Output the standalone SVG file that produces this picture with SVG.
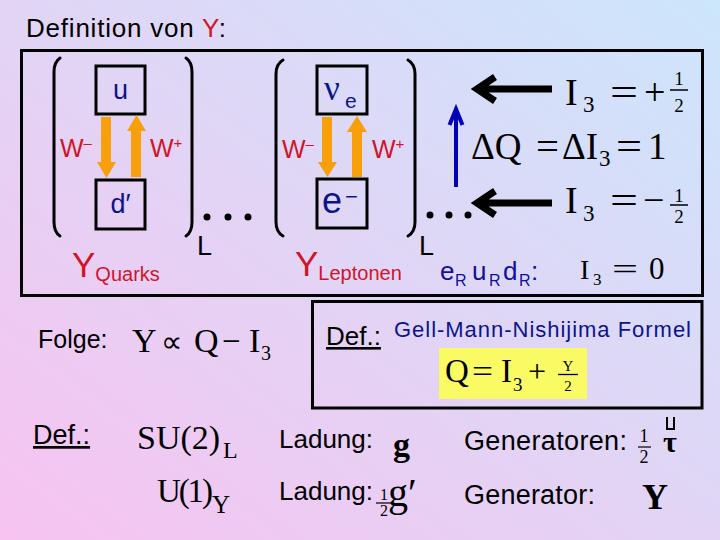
<svg xmlns="http://www.w3.org/2000/svg" width="720" height="540" viewBox="0 0 720 540">
<defs>
<linearGradient id="bg" x1="0" y1="1" x2="1" y2="0">
<stop offset="0" stop-color="#f7c3f0"/>
<stop offset="1" stop-color="#cce6fb"/>
</linearGradient>
</defs>
<style>
.a{font-family:"Liberation Sans",Arial,sans-serif}
.t{font-family:"Liberation Serif","Times New Roman",serif}
.red{fill:#d0142a}
.navy{fill:#0c148c}
.blue{fill:#10109a}
.box{fill:none;stroke:#000;stroke-width:3}
.par{fill:none;stroke:#000;stroke-width:3;stroke-linecap:round}
.or{fill:#f7a00c}
.blk{fill:none;stroke:#000;stroke-width:7}
.bl{fill:none;stroke:#0000b4;stroke-width:4}
</style>
<rect width="720" height="540" fill="url(#bg)"/>

<text class="a" x="26" y="37" font-size="26" textLength="200">Definition von <tspan class="red">Y</tspan>:</text>

<rect class="box" x="21.5" y="50.5" width="681" height="245"/>

<g id="quarks">
<path class="par" d="M60,58 Q54,62 54,72 L54,222 Q54,232 60,236"/>
<path class="par" d="M186,58 Q192,62 192,72 L192,222 Q192,232 186,236"/>
<g id="node-u"><rect class="box" x="96" y="66" width="49" height="48"/><text class="a navy" x="120.5" y="99" font-size="27" text-anchor="middle">u</text></g>
<g id="node-d"><rect class="box" x="96" y="180" width="49" height="49"/><text class="a navy" x="120.5" y="213" font-size="27" text-anchor="middle">d′</text></g>
<text class="a red" x="60" y="157" font-size="25">W<tspan font-size="15" dy="-9">–</tspan></text>
<text class="a red" x="150" y="157" font-size="25">W<tspan font-size="15" dy="-9">+</tspan></text>
<circle cx="207" cy="217" r="3.5"/><circle cx="228" cy="217" r="3.5"/><circle cx="248" cy="217" r="3.5"/>
<text class="a" x="197" y="255" font-size="27">L</text>
<text class="a red" x="72" y="277" font-size="35">Y<tspan font-size="20" dy="4">Quarks</tspan></text>
</g>

<g id="leptons">
<path class="par" d="M283,60 Q276,64 276,74 L276,222 Q276,232 283,236"/>
<path class="par" d="M408,60 Q415,64 415,74 L415,222 Q415,232 408,236"/>
<g id="node-nu"><rect class="box" x="317" y="66" width="50" height="48"/><text class="t navy" x="324" y="100" font-size="35">ν</text><text class="a navy" x="345" y="108" font-size="21">e</text></g>
<g id="node-e"><rect class="box" x="317" y="179" width="50" height="49"/><text class="a navy" x="322" y="213" font-size="36">e</text><text class="a navy" x="345" y="204" font-size="22">−</text></g>
<text class="a red" x="282" y="158" font-size="25">W<tspan font-size="15" dy="-9">–</tspan></text>
<text class="a red" x="372" y="158" font-size="25">W<tspan font-size="15" dy="-9">+</tspan></text>
<circle cx="430" cy="215" r="3.5"/><circle cx="449" cy="215" r="3.5"/><circle cx="468" cy="215" r="3.5"/>
<text class="a" x="419" y="255" font-size="27">L</text>
<text class="a red" x="295" y="276" font-size="35">Y<tspan font-size="20" dy="4">Leptonen</tspan></text>
</g>

<g id="connectors">
<polygon class="or" points="101,117 111,117 111,162 116,162 106.5,178 97,162 101,162"/>
<polygon class="or" points="131,177 141,177 141,131 146,131 136.5,115 127,131 131,131"/>
<polygon class="or" points="322,117 332,117 332,162 337,162 327.5,177 318,162 322,162"/>
<polygon class="or" points="352,177 362,177 362,132 367,132 357,116 347,132 352,132"/>
<path class="blk" d="M552,89 H480 M495,77 L477,89 L495,101"/>
<path class="blk" d="M552,203 H480 M495,191 L477,203 L495,215"/>
<path class="bl" d="M456,187 V112 M449.5,125 L456,109 L462.5,125"/>
</g>

<g id="isospin" class="t">
<text x="565" y="105" font-size="38">I</text>
<text x="583" y="112" font-size="23">3</text>
<text x="610" y="105" font-size="38" textLength="28" lengthAdjust="spacingAndGlyphs">=</text>
<text x="644" y="105" font-size="38">+</text>
<text x="679" y="85" font-size="19" text-anchor="middle">1</text>
<line x1="670" y1="90" x2="688" y2="90" stroke="#000" stroke-width="1.5"/>
<text x="679" y="112" font-size="19" text-anchor="middle">2</text>

<text x="471" y="159" font-size="37">ΔQ</text>
<text x="536" y="159" font-size="37" textLength="23" lengthAdjust="spacingAndGlyphs">=</text>
<text x="562" y="159" font-size="37">ΔI</text>
<text x="599" y="166" font-size="23">3</text>
<text x="616" y="159" font-size="37" textLength="26" lengthAdjust="spacingAndGlyphs">=</text>
<text x="648" y="159" font-size="37">1</text>

<text x="565" y="213" font-size="38">I</text>
<text x="583" y="221" font-size="23">3</text>
<text x="610" y="213" font-size="38" textLength="28" lengthAdjust="spacingAndGlyphs">=</text>
<text x="643" y="213" font-size="38">−</text>
<text x="679" y="202" font-size="19" text-anchor="middle">1</text>
<line x1="670" y1="205" x2="688" y2="205" stroke="#000" stroke-width="1.5"/>
<text x="679" y="223" font-size="19" text-anchor="middle">2</text>
</g>

<g id="rechts">
<text class="a blue" x="440" y="280" font-size="26">e</text>
<text class="a blue" x="455" y="286" font-size="16">R</text>
<text class="a blue" x="472" y="280" font-size="26">u</text>
<text class="a blue" x="489" y="286" font-size="16">R</text>
<text class="a blue" x="503" y="280" font-size="26">d</text>
<text class="a blue" x="519" y="286" font-size="16">R</text>
<text class="a blue" x="531" y="280" font-size="26">:</text>
<text class="t" x="580" y="279" font-size="28">I</text>
<text class="t" x="593" y="285" font-size="17">3</text>
<text class="t" x="612" y="279" font-size="30" textLength="26" lengthAdjust="spacingAndGlyphs">=</text>
<text class="t" x="649" y="279" font-size="31">0</text>
</g>

<g id="folge">
<text class="a" x="38" y="348" font-size="25">Folge:</text>
<text class="t" x="132" y="352" font-size="34">Y</text>
<text class="t" x="161" y="352" font-size="30">∝</text>
<text class="t" x="194" y="352" font-size="34">Q</text>
<text class="t" x="222" y="352" font-size="33">−</text>
<text class="t" x="249" y="352" font-size="34">I</text>
<text class="t" x="261" y="360" font-size="20">3</text>
</g>

<g id="gmn">
<rect class="box" x="312.5" y="301.5" width="389.5" height="106.5"/>
<text class="a" x="326" y="345" font-size="26" text-decoration="underline">Def.:</text>
<text class="a navy" x="394" y="337" font-size="22" textLength="297">Gell-Mann-Nishijima Formel</text>
<rect x="439" y="348" width="148" height="51" fill="#fafa64"/>
<text class="t" x="445" y="382" font-size="33">Q</text>
<text class="t" x="472" y="382" font-size="32" textLength="21" lengthAdjust="spacingAndGlyphs">=</text>
<text class="t" x="501" y="382" font-size="33">I</text>
<text class="t" x="513" y="391" font-size="19">3</text>
<text class="t" x="528" y="382" font-size="32">+</text>
<text class="t" x="568" y="371" font-size="15" text-anchor="middle">Y</text>
<line x1="558" y1="374.5" x2="578" y2="374.5" stroke="#000" stroke-width="1.3"/>
<text class="t" x="568" y="391" font-size="15" text-anchor="middle">2</text>
</g>

<g id="defs-eich">
<text class="a" x="33" y="444" font-size="27" text-decoration="underline">Def.:</text>
<text class="t" x="137" y="449" font-size="34">SU(2)</text>
<text class="t" x="223" y="458" font-size="24">L</text>
<text class="t" x="157" y="502" font-size="33" textLength="56">U(1)</text>
<text class="t" x="212" y="513" font-size="25">Y</text>

<text class="a" x="279" y="448" font-size="26">Ladung:</text>
<text class="t" x="393" y="456" font-size="34" font-weight="bold" textLength="26">g</text>
<text class="a" x="279" y="500" font-size="26">Ladung:</text>
<text class="t" x="384" y="500" font-size="16" text-anchor="middle">1</text>
<line x1="376" y1="503" x2="392" y2="503" stroke="#000" stroke-width="1.2"/>
<text class="t" x="384" y="516" font-size="16" text-anchor="middle">2</text>
<text class="t" x="388" y="506" font-size="40">g′</text>

<text class="a" x="464" y="450" font-size="27" textLength="163">Generatoren:</text>
<text class="t" x="644" y="442" font-size="18" text-anchor="middle">1</text>
<line x1="638" y1="447" x2="651" y2="447" stroke="#000" stroke-width="1.2"/>
<text class="t" x="644" y="463" font-size="18" text-anchor="middle">2</text>
<path d="M667,417 V429 H674 V417" fill="none" stroke="#000" stroke-width="2"/>
<text class="t" x="663" y="452" font-size="30" font-weight="bold">τ</text>
<text class="a" x="464" y="504" font-size="27" textLength="131">Generator:</text>
<text class="t" x="642" y="509" font-size="36" font-weight="bold" textLength="41">Y</text>
</g>
</svg>
